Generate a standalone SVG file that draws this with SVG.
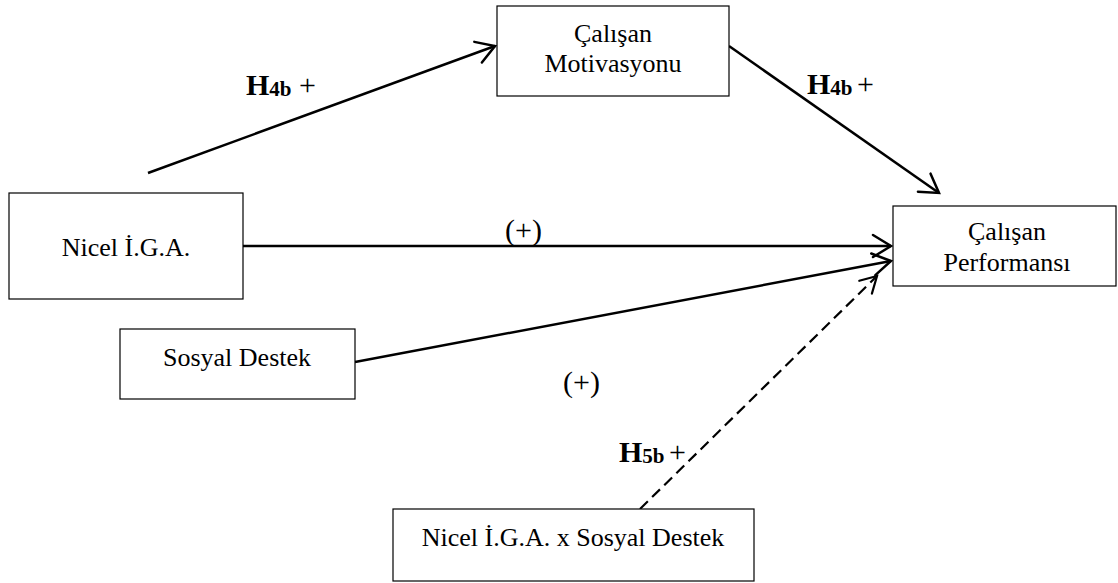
<svg xmlns="http://www.w3.org/2000/svg" width="1118" height="583" viewBox="0 0 1118 583">
  <style>
    .box { fill: #ffffff; stroke: #000000; stroke-width: 1.2; }
    .lbl { font-family: "Liberation Serif", "Times New Roman", serif; font-size: 26px; fill: #000000; text-anchor: middle; }
    .conn { stroke: #000000; stroke-width: 2.5; fill: none; }
    .dash { stroke: #000000; stroke-width: 2.2; fill: none; stroke-dasharray: 11 6; }
    .hyp { font-family: "Liberation Serif", "Times New Roman", serif; fill: #000000; font-weight: bold; }
    .hH { font-size: 30px; }
    .hSub { font-size: 21px; }
    .hPlus { font-size: 30px; font-weight: normal; }
    .sign { font-family: "Liberation Serif", "Times New Roman", serif; font-size: 30px; fill: #000000; }
  </style>
  <defs>
    <marker id="arr" markerUnits="userSpaceOnUse" markerWidth="24" markerHeight="28" viewBox="0 0 24 28" refX="21" refY="14" orient="auto">
      <path d="M3,3 L21,14 L3,25" fill="none" stroke="#000000" stroke-width="2.5" stroke-linecap="round" stroke-linejoin="miter"/>
    </marker>
    <marker id="arrS" markerUnits="userSpaceOnUse" markerWidth="22" markerHeight="24" viewBox="0 0 22 24" refX="19" refY="12" orient="auto">
      <path d="M3,3 L19,12 L3,21" fill="none" stroke="#000000" stroke-width="2.2" stroke-linecap="round" stroke-linejoin="miter"/>
    </marker>
  </defs>

  <g id="connectors">
    <line class="conn" x1="148" y1="173" x2="495" y2="46" marker-end="url(#arr)"/>
    <line class="conn" x1="729" y1="46" x2="939" y2="193" marker-end="url(#arr)"/>
    <line class="conn" x1="243" y1="246" x2="891" y2="246" marker-end="url(#arr)"/>
    <line class="conn" x1="355" y1="362" x2="891" y2="261" marker-end="url(#arr)"/>
    <line class="dash" x1="640" y1="509" x2="877" y2="276" marker-end="url(#arrS)"/>
  </g>

  <g id="node-motivasyon">
    <rect class="box" x="497" y="6" width="232" height="90"/>
    <text class="lbl" x="613" y="42">Çalışan</text>
    <text class="lbl" x="613" y="72">Motivasyonu</text>
  </g>

  <g id="node-performans">
    <rect class="box" x="893" y="206" width="223" height="80"/>
    <text class="lbl" x="1007" y="240">Çalışan</text>
    <text class="lbl" x="1007" y="271">Performansı</text>
  </g>

  <g id="node-nicel">
    <rect class="box" x="9" y="193" width="234" height="106"/>
    <text class="lbl" x="126" y="256">Nicel İ.G.A.</text>
  </g>

  <g id="node-sosyal">
    <rect class="box" x="120" y="329" width="235" height="70"/>
    <text class="lbl" x="237" y="366">Sosyal Destek</text>
  </g>

  <g id="node-etkilesim">
    <rect class="box" x="393" y="509" width="361" height="72"/>
    <text class="lbl" x="573" y="546">Nicel İ.G.A. x Sosyal Destek</text>
  </g>

  <g id="labels">
    <text class="hyp" x="246" y="95"><tspan class="hH">H</tspan><tspan class="hSub" dy="1">4b</tspan><tspan class="hPlus" x="299" dy="-1">+</tspan></text>
    <text class="hyp" x="807" y="94"><tspan class="hH">H</tspan><tspan class="hSub" dy="1">4b</tspan><tspan class="hPlus" x="857" dy="-1">+</tspan></text>
    <text class="hyp" x="619" y="462"><tspan class="hH">H</tspan><tspan class="hSub" dy="1">5b</tspan><tspan class="hPlus" x="669" dy="-1">+</tspan></text>
    <text class="sign" x="505" y="240">(+)</text>
    <text class="sign" x="563" y="392">(+)</text>
  </g>
</svg>
